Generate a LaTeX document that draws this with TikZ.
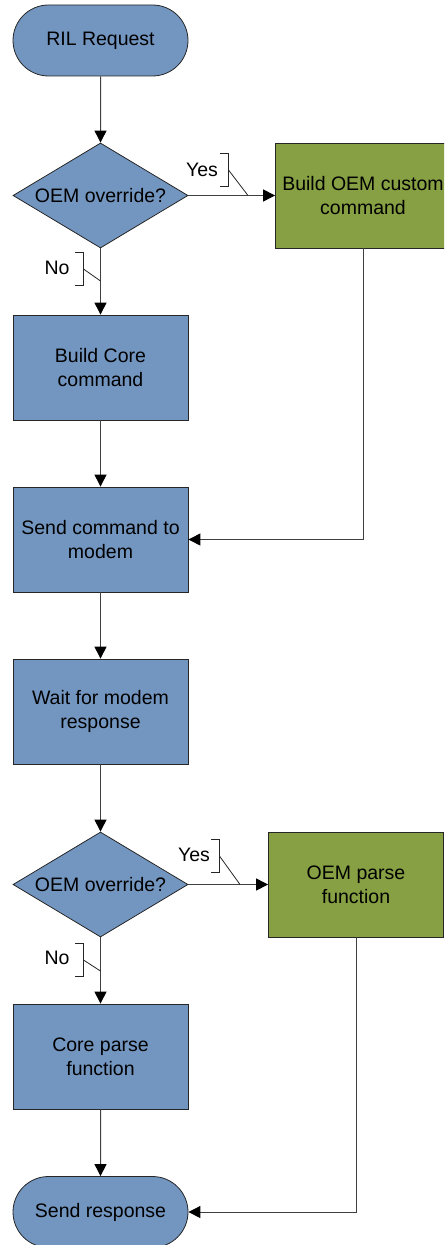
\documentclass[tikz,border=0pt]{standalone}
\usepackage{fontspec}
\setmainfont{Liberation Sans}
\usepackage{tikz}
\usetikzlibrary{arrows.meta,positioning,shapes.geometric,shapes.misc}
\definecolor{coreblue}{HTML}{7396C1}
\definecolor{oemgreen}{HTML}{86A043}
\newcommand{\flowfont}{\fontsize{9.75}{12}\selectfont}
\tikzset{
  termbox/.style={draw=black!85, fill=coreblue, rounded rectangle, minimum width=87.5pt,
                  minimum height=35.5pt, inner sep=0pt, font=\flowfont, align=center},
  corebox/.style={draw=black!85, fill=coreblue, minimum width=87.5pt, minimum height=52.5pt,
                  inner sep=0pt, font=\flowfont, align=center},
  oembox/.style={corebox, fill=oemgreen},
  decbox/.style={draw=black!85, fill=coreblue, diamond, aspect=1.667, minimum width=87.5pt,
                 minimum height=52.5pt, inner sep=0pt, font=\flowfont},
  flowarrow/.style={-{Triangle[length=6pt,width=6pt,color=black]}, draw=black!75,
                    line width=0.5pt},
  tagline/.style={draw=black!85, line width=0.4pt},
  taglabel/.style={font=\flowfont, inner sep=0pt}
}

\begin{document}
\begin{tikzpicture}[x=0.5pt, y=-0.5pt]
    \clip (0,0) rectangle (444,1245);
    \def\xL{100.5} \def\xA{363} \def\xB{356}

    % main column
    \node[termbox] (req)   at (\xL, 40.5)  {RIL Request};
    \node[decbox]  (dec1)  at (\xL, 195.5) {OEM override?};
    \node[corebox] (build) at (\xL, 367.5) {Build Core\\command};
    \node[corebox] (send)  at (\xL, 539.5) {Send command to\\modem};
    \node[corebox] (wait)  at (\xL, 711.5) {Wait for modem\\response};
    \node[decbox]  (dec2)  at (\xL, 884.5) {OEM override?};
    \node[corebox] (parse) at (\xL, 1056.5) {Core parse\\function};
    \node[termbox] (resp)  at (\xL, 1212)  {Send response};

    % OEM branches
    \node[oembox] (oem1) at (\xA, 195.5) {Build OEM custom\\command};
    \node[oembox] (oem2) at (\xB, 884.5) {OEM parse\\function};

    \draw[flowarrow] (req) -- (dec1);
    \draw[flowarrow] (dec1) -- (build);
    \draw[flowarrow] (build) -- (send);
    \draw[flowarrow] (send) -- (wait);
    \draw[flowarrow] (wait) -- (dec2);
    \draw[flowarrow] (dec2) -- (parse);
    \draw[flowarrow] (parse) -- (resp);
    \draw[flowarrow] (dec1) -- (oem1);
    \draw[flowarrow] (dec2) -- (oem2);
    \draw[flowarrow] (oem1.south) |- (send.east);
    \draw[flowarrow] (oem2.south) |- (resp.east);

    % Yes / No tags
    \node[taglabel] (yes1) at (202,170) {Yes};
    \draw[tagline] (220,153.5) -| (228.5,186.5) -- (220,186.5);
    \draw[tagline] (228.5,170) -- (248,195.5);
    \node[taglabel] (no1) at (57,268) {No};
    \draw[tagline] (75,252.5) -| (83.5,285.5) -- (75,285.5);
    \draw[tagline] (83.5,269) -- (\xL,281);

    \node[taglabel] (yes2) at (194,855) {Yes};
    \draw[tagline] (211,839.5) -| (219.5,872.5) -- (211,872.5);
    \draw[tagline] (219.5,856) -- (240,884.5);
    \node[taglabel] (no2) at (57,958) {No};
    \draw[tagline] (75,943.5) -| (83.5,976.5) -- (75,976.5);
    \draw[tagline] (83.5,960) -- (\xL,971);
\end{tikzpicture}
\end{document}
